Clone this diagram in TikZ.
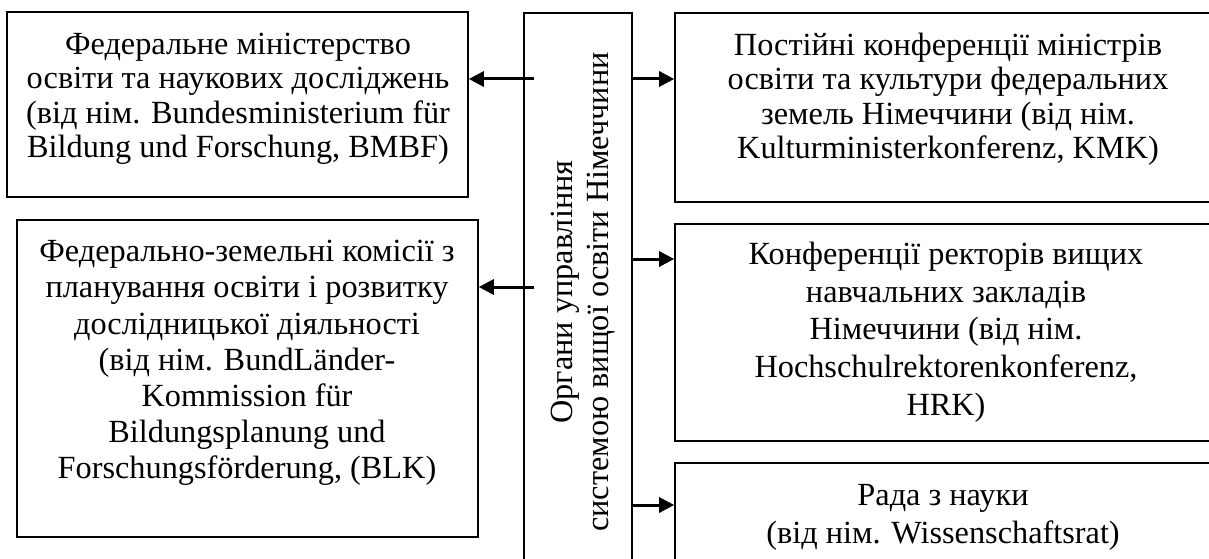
\documentclass[tikz,border=0pt]{standalone}
\usepackage{fontspec}
\setmainfont{Liberation Serif}
\usetikzlibrary{arrows.meta}
\begin{document}
\begin{tikzpicture}[x=1pt,y=-1pt,
  box/.style={draw=black,line width=1.6pt,rectangle,inner sep=0pt},
  txt/.style={align=center,inner sep=0pt,font=\fontsize{32.3}{34.5}\selectfont},
  arr/.style={line width=3pt,-{Triangle[length=15pt,width=15pt]}}]
\useasboundingbox (0,0) rectangle (1209,559);
\clip (0,0) rectangle (1209,559);
\fill[white] (0,0) rectangle (1209,559);
% boxes
\node[box,minimum width=461pt,minimum height=185pt] (A) at (237.5,104.5) {};
\node[box,minimum width=461pt,minimum height=317pt] (B) at (247.5,378.5) {};
\node[box,minimum width=108pt,minimum height=562pt] (C) at (578,294) {};
\node[box,minimum width=600pt,minimum height=189pt] (D) at (975,107.5) {};
\node[box,minimum width=600pt,minimum height=217pt] (E) at (975,332.5) {};
\node[box,minimum width=600pt,minimum height=140pt] (F) at (975,533) {};
% texts
\node[txt] (At) at (238,99) {Федеральне міністерство\\освіти та наукових досліджень\\(від нім. Bundesministerium für\\Bildung und Forschung, BMBF)};
\node[txt,font=\fontsize{32.3}{36.2}\selectfont] (Bt) at (247,363) {Федерально-земельні комісії з\\планування освіти і розвитку\\дослідницької діяльності\\(від нім. BundLänder-\\Kommission für\\Bildungsplanung und\\Forschungsförderung, (BLK)};
\node[txt,rotate=90,font=\fontsize{32.3}{36}\selectfont] (Ct) at (583,292) {Органи управління\\системою вищої освіти Німеччини};
\node[txt] (Dt) at (948,99) {Постійні конференції міністрів\\освіти та культури федеральних\\земель Німеччини (від нім.\\Kulturministerkonferenz, KMK)};
\node[txt,font=\fontsize{32.3}{37.7}\selectfont] (Et) at (946,332) {Конференції ректорів вищих\\навчальних закладів\\Німеччини (від нім.\\Hochschulrektorenkonferenz,\\HRK)};
\node[txt,font=\fontsize{32.3}{38}\selectfont] (Ft) at (943,517) {Рада з науки\\(від нім. Wissenschaftsrat)};
% arrow start points
\coordinate (l1) at (534,79);
\coordinate (l2) at (534,287);
\coordinate (r1) at (C.east |- 0,79);
\coordinate (r2) at (C.east |- 0,259);
\coordinate (r3) at (C.east |- 0,505);
\draw[arr] (l1) -- (A.east |- l1);
\draw[arr] (l2) -- (B.east |- l2);
\draw[arr] (r1) -- (D.west |- r1);
\draw[arr] (r2) -- (E.west |- r2);
\draw[arr] (r3) -- (F.west |- r3);
\end{tikzpicture}
\end{document}
